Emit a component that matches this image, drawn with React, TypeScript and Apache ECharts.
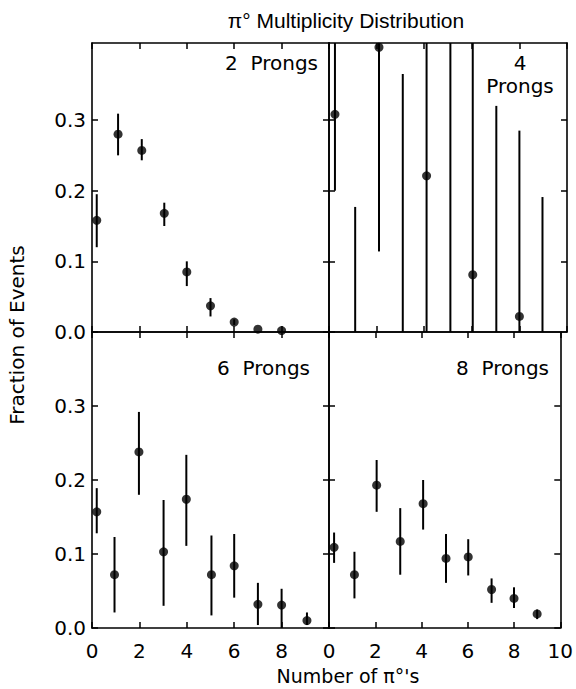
import React, { useEffect, useRef } from "react";
import * as echarts from "echarts";

// ---- data ----
const xTicks = [0, 2, 4, 6, 8, 10];
const yTicks = [0, 0.1, 0.2, 0.3];

const twoX = [0.2, 1.1, 2.1, 3.05, 4.0, 5.0, 6.0, 7.0, 8.0];
const twoY = [0.158, 0.28, 0.257, 0.168, 0.085, 0.037, 0.014, 0.004, 0.002];
const twoLow = [0.12, 0.25, 0.243, 0.15, 0.065, 0.022, 0.01, 0.004, 0.002];
const twoHigh = [0.195, 0.309, 0.273, 0.183, 0.1, 0.048, 0.018, 0.004, 0.002];

const fourX = [0.25, 1.1, 2.1, 3.1, 4.1, 5.1, 6.04, 7.03, 8.0, 8.97];
const fourY = [0.308, null, 0.403, null, 0.221, null, 0.081, null, 0.022, null];
const fourLow = [0.2, 0, 0.114, 0, 0, 0, 0, 0, 0, 0];
const fourHigh = [0.5, 0.177, 0.5, 0.365, 0.5, 0.5, 0.5, 0.32, 0.285, 0.191];

const sixX = [0.2, 0.95, 1.98, 3.02, 3.98, 5.04, 6.0, 7.0, 8.0, 9.07];
const sixY = [0.157, 0.072, 0.238, 0.103, 0.174, 0.072, 0.084, 0.032, 0.031, 0.01];
const sixLow = [0.128, 0.021, 0.18, 0.03, 0.111, 0.017, 0.041, 0.004, 0, 0.004];
const sixHigh = [0.189, 0.123, 0.292, 0.173, 0.234, 0.125, 0.127, 0.061, 0.053, 0.021];

const eightX = [0.22, 1.1, 2.06, 3.08, 4.07, 5.06, 6.02, 7.03, 8.0, 9.0];
const eightY = [0.109, 0.072, 0.193, 0.117, 0.168, 0.094, 0.096, 0.052, 0.04, 0.019];
const eightLow = [0.088, 0.04, 0.157, 0.072, 0.133, 0.061, 0.071, 0.034, 0.027, 0.012];
const eightHigh = [0.129, 0.103, 0.227, 0.162, 0.2, 0.127, 0.12, 0.067, 0.055, 0.025];

const panelLabels = ["2  Prongs", "4", "Prongs", "6  Prongs", "8  Prongs"];
const titleText = "π° Multiplicity Distribution";
const xTitle = "Number of π°'s";
const yTitle = "Fraction of Events";

const FONT = "DejaVu Sans";

function buildOption() {
  const grids = [
    { left: 92, top: 43, width: 237, height: 289 },
    { left: 329, top: 43, width: 238, height: 289 },
    { left: 92, top: 332, width: 237, height: 296 },
    { left: 329, top: 332, width: 238, height: 296 },
  ];
  const panels = [
    { x: twoX, y: twoY, lo: twoLow, hi: twoHigh, ymax: 0.409 },
    { x: fourX, y: fourY, lo: fourLow, hi: fourHigh, ymax: 0.409 },
    { x: sixX, y: sixY, lo: sixLow, hi: sixHigh, ymax: 0.4 },
    { x: eightX, y: eightY, lo: eightLow, hi: eightHigh, ymax: 0.4 },
  ];
  const line = { show: true, onZero: false, lineStyle: { color: "#000", width: 1.6 } };
  const tick = (vals: number[]) => ({
    show: true,
    inside: true,
    length: 6,
    customValues: vals,
    lineStyle: { color: "#000", width: 1.5 },
  });
  const xAxis: any[] = [];
  const yAxis: any[] = [];
  const series: any[] = [];
  grids.forEach((g, i) => {
    const bottomRow = i >= 2;
    const leftCol = i % 2 === 0;
    const xLabelVals = leftCol ? xTicks.slice(0, 5) : xTicks;
    xAxis.push({
      type: "value",
      gridIndex: i,
      position: "bottom",
      min: 0,
      max: 10,
      interval: 2,
      axisLine: line,
      axisTick: tick(xTicks),
      splitLine: { show: false },
      axisLabel: {
        show: bottomRow,
        customValues: xLabelVals,
        margin: 13,
        fontSize: 20,
        fontFamily: FONT,
        color: "#000",
        formatter: (v: number) => String(v),
      },
    });
    xAxis.push({
      type: "value",
      gridIndex: i,
      position: "top",
      min: 0,
      max: 10,
      interval: 2,
      axisLine: line,
      axisTick: tick(xTicks),
      splitLine: { show: false },
      axisLabel: { show: false },
    });
    yAxis.push({
      type: "value",
      gridIndex: i,
      position: "left",
      min: 0,
      max: panels[i].ymax,
      interval: 0.1,
      axisLine: line,
      axisTick: tick(yTicks),
      splitLine: { show: false },
      axisLabel: {
        show: leftCol,
        customValues: yTicks,
        margin: 6,
        fontSize: 20,
        fontFamily: FONT,
        color: "#000",
        formatter: (v: number) => v.toFixed(1),
      },
    });
    yAxis.push({
      type: "value",
      gridIndex: i,
      position: "right",
      min: 0,
      max: panels[i].ymax,
      interval: 0.1,
      axisLine: line,
      axisTick: tick(yTicks),
      splitLine: { show: false },
      axisLabel: { show: false },
    });
    const p = panels[i];
    series.push({
      type: "custom",
      xAxisIndex: 2 * i,
      yAxisIndex: 2 * i,
      silent: true,
      data: p.x.map((x, k) => [x, p.lo[k], p.hi[k]]),
      renderItem: (params: any, api: any) => {
        const x = api.value(0);
        const a = api.coord([x, api.value(1)]);
        const b = api.coord([x, api.value(2)]);
        const cs = params.coordSys;
        const clamp = (v: number) => Math.max(cs.y, Math.min(cs.y + cs.height, v));
        return {
          type: "line",
          shape: { x1: a[0], y1: clamp(a[1]), x2: b[0], y2: clamp(b[1]) },
          style: { stroke: "#000", lineWidth: 2 },
        };
      },
    });
    series.push({
      type: "scatter",
      xAxisIndex: 2 * i,
      yAxisIndex: 2 * i,
      symbol: "circle",
      symbolSize: 9,
      clip: false,
      silent: true,
      itemStyle: { color: "#000" },
      data: p.x
        .map((x, k) => [x, p.y[k]])
        .filter((d) => d[1] !== null && d[1] !== undefined),
    });
  });

  const txt = (text: string, x: number, y: number, align: string, size = 20, font = FONT, rotation = 0) => ({
    type: "text",
    x,
    y,
    rotation,
    silent: true,
    style: {
      text,
      fontSize: size,
      fontFamily: font,
      fill: "#000",
      textAlign: align,
      textVerticalAlign: "middle",
    },
  });

  const graphic = [
    txt(titleText, 346, 20, "center", 21, "Liberation Sans"),
    txt(panelLabels[0], 318, 63, "right"),
    txt(panelLabels[1], 520, 63, "center"),
    txt(panelLabels[2], 520, 86, "center"),
    txt(panelLabels[3], 310, 368, "right"),
    txt(panelLabels[4], 549, 368, "right"),
    txt(xTitle, 348, 676, "center", 19),
    txt(yTitle, 17, 335, "center", 20, FONT, Math.PI / 2),
  ];

  return {
    animation: false,
    backgroundColor: "#fff",
    grid: grids.map((g) => ({ ...g, containLabel: false })),
    xAxis,
    yAxis,
    series,
    graphic,
  };
}

export default function App() {
  const ref = useRef<HTMLDivElement>(null);
  useEffect(() => {
    if (!ref.current) return;
    const chart = echarts.init(ref.current, undefined, { renderer: "svg" });
    chart.setOption(buildOption() as any);
    return () => chart.dispose();
  }, []);
  return (
    <div
      ref={ref}
      style={{ position: "absolute", left: 0, top: 0, width: 576, height: 689, background: "#fff" }}
    />
  );
}
